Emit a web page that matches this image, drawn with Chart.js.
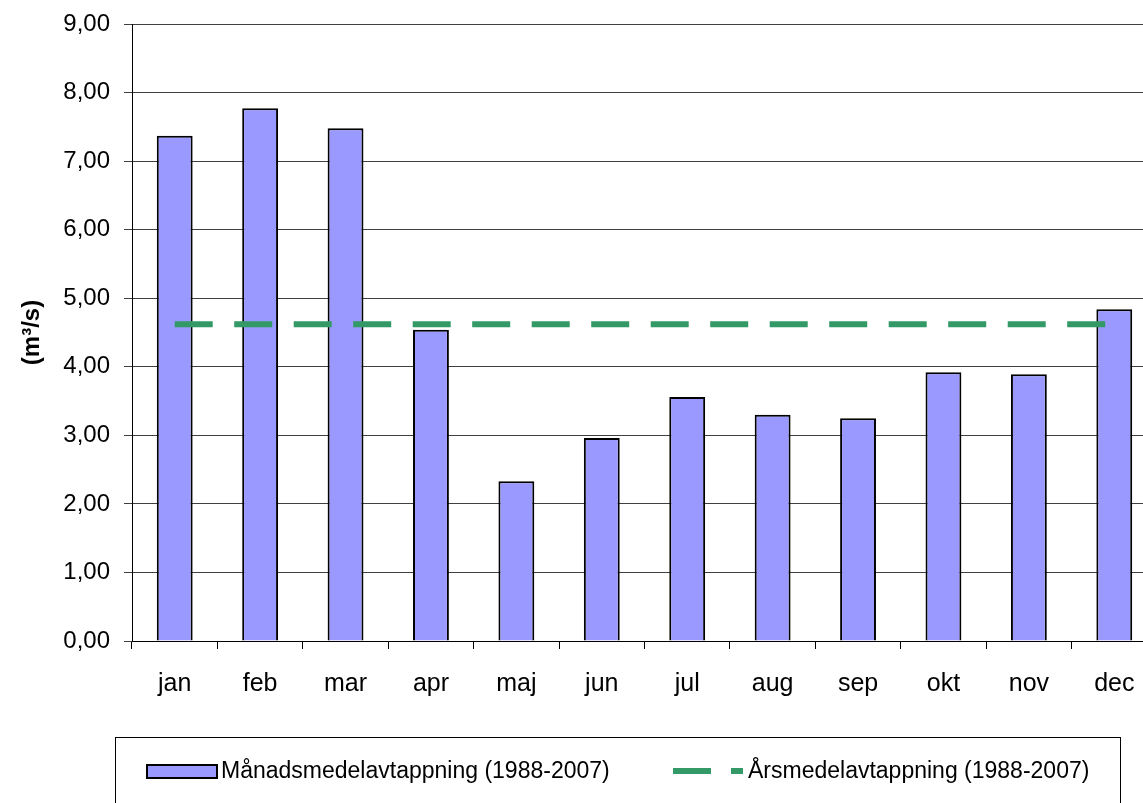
<!DOCTYPE html>
<html>
<head>
<meta charset="utf-8">
<script src="https://cdn.jsdelivr.net/npm/chart.js@4"></script>
<style>
  html, body { margin: 0; padding: 0; background: #fff; overflow: hidden; }
  #wrap { width: 1180px; height: 803px; }
</style>
</head>
<body>
<div id="wrap"><canvas id="grafico" width="1180" height="803"></canvas></div>
<script>
const manader = ['jan', 'feb', 'mar', 'apr', 'maj', 'jun', 'jul', 'aug', 'sep', 'okt', 'nov', 'dec'];
const manadsmedel = [7.37, 7.77, 7.48, 4.54, 2.33, 2.96, 3.56, 3.30, 3.25, 3.92, 3.89, 4.84];
const arsmedel = [4.62, 4.62, 4.62, 4.62, 4.62, 4.62, 4.62, 4.62, 4.62, 4.62, 4.62, 4.62];
const yEtiketter = ['0,00', '1,00', '2,00', '3,00', '4,00', '5,00', '6,00', '7,00', '8,00', '9,00'];

const namnBar = 'Månadsmedelavtappning (1988-2007)';
const namnLinje = 'Årsmedelavtappning (1988-2007)';

const barFarg = '#9999FF';
const linjeFarg = '#339966';
const typsnitt = '"Liberation Sans", Arial, sans-serif';

// legend drawn as a framed box under the chart, like the Excel original
const legendBox = {
    id: 'legendBox',
    afterDraw(chart) {
        const ctx = chart.ctx;
        ctx.save();
        ctx.strokeStyle = '#000';
        ctx.lineWidth = 1;
        ctx.strokeRect(115.5, 737.5, 1005, 100);

        // bar swatch
        ctx.fillStyle = barFarg;
        ctx.fillRect(147, 765, 70, 13);
        ctx.lineWidth = 2;
        ctx.strokeRect(147, 765, 70, 13);

        ctx.fillStyle = '#000';
        ctx.font = '23px ' + typsnitt;
        ctx.textBaseline = 'middle';
        ctx.textAlign = 'left';
        ctx.fillText(namnBar, 221, 772);

        // dashed line swatch
        ctx.strokeStyle = linjeFarg;
        ctx.lineWidth = 6;
        ctx.beginPath();
        ctx.moveTo(673, 771);
        ctx.lineTo(711, 771);
        ctx.moveTo(731, 771);
        ctx.lineTo(743, 771);
        ctx.stroke();

        ctx.fillText(namnLinje, 748, 772);
        ctx.restore();
    }
};

new Chart(document.getElementById('grafico'), {
    type: 'bar',
    data: {
        labels: manader,
        datasets: [{
            type: 'line',
            label: namnLinje,
            data: arsmedel,
            borderColor: linjeFarg,
            borderWidth: 6,
            borderDash: [38, 21.5],
            borderCapStyle: 'butt',
            pointRadius: 0,
            fill: false,
            order: 0
        }, {
            label: namnBar,
            data: manadsmedel,
            backgroundColor: barFarg,
            borderColor: '#000',
            borderWidth: 2,
            categoryPercentage: 1,
            barPercentage: 0.42,
            order: 1
        }]
    },
    options: {
        responsive: false,
        animation: false,
        layout: {
            padding: { left: 0, top: 24, right: 23, bottom: 102 }
        },
        plugins: {
            legend: { display: false },
            tooltip: { enabled: false }
        },
        scales: {
            x: {
                grid: {
                    display: true,
                    drawOnChartArea: false,
                    offset: true,
                    color: '#000',
                    tickLength: 8
                },
                border: { color: '#000', width: 1 },
                ticks: {
                    color: '#000',
                    padding: 20,
                    maxRotation: 0,
                    font: { family: typsnitt, size: 25 }
                },
                afterFit(scale) { scale.height = 60; }
            },
            y: {
                min: 0,
                max: 9,
                ticks: {
                    stepSize: 1,
                    color: '#000',
                    padding: 14,
                    font: { family: typsnitt, size: 24 },
                    callback: (v, i) => yEtiketter[i]
                },
                grid: {
                    color: '#404040',
                    lineWidth: 1,
                    tickLength: 8
                },
                border: { color: '#000', width: 1 },
                title: {
                    display: true,
                    text: '(m³/s)',
                    color: '#000',
                    padding: { top: 18, bottom: 0 },
                    font: { family: typsnitt, size: 24, weight: 'bold' }
                },
                afterFit(scale) {
                    scale.width = 132;
                    scale.paddingTop = 0;
                    scale.paddingBottom = 0;
                }
            }
        }
    },
    plugins: [legendBox]
});
</script>
</body>
</html>
